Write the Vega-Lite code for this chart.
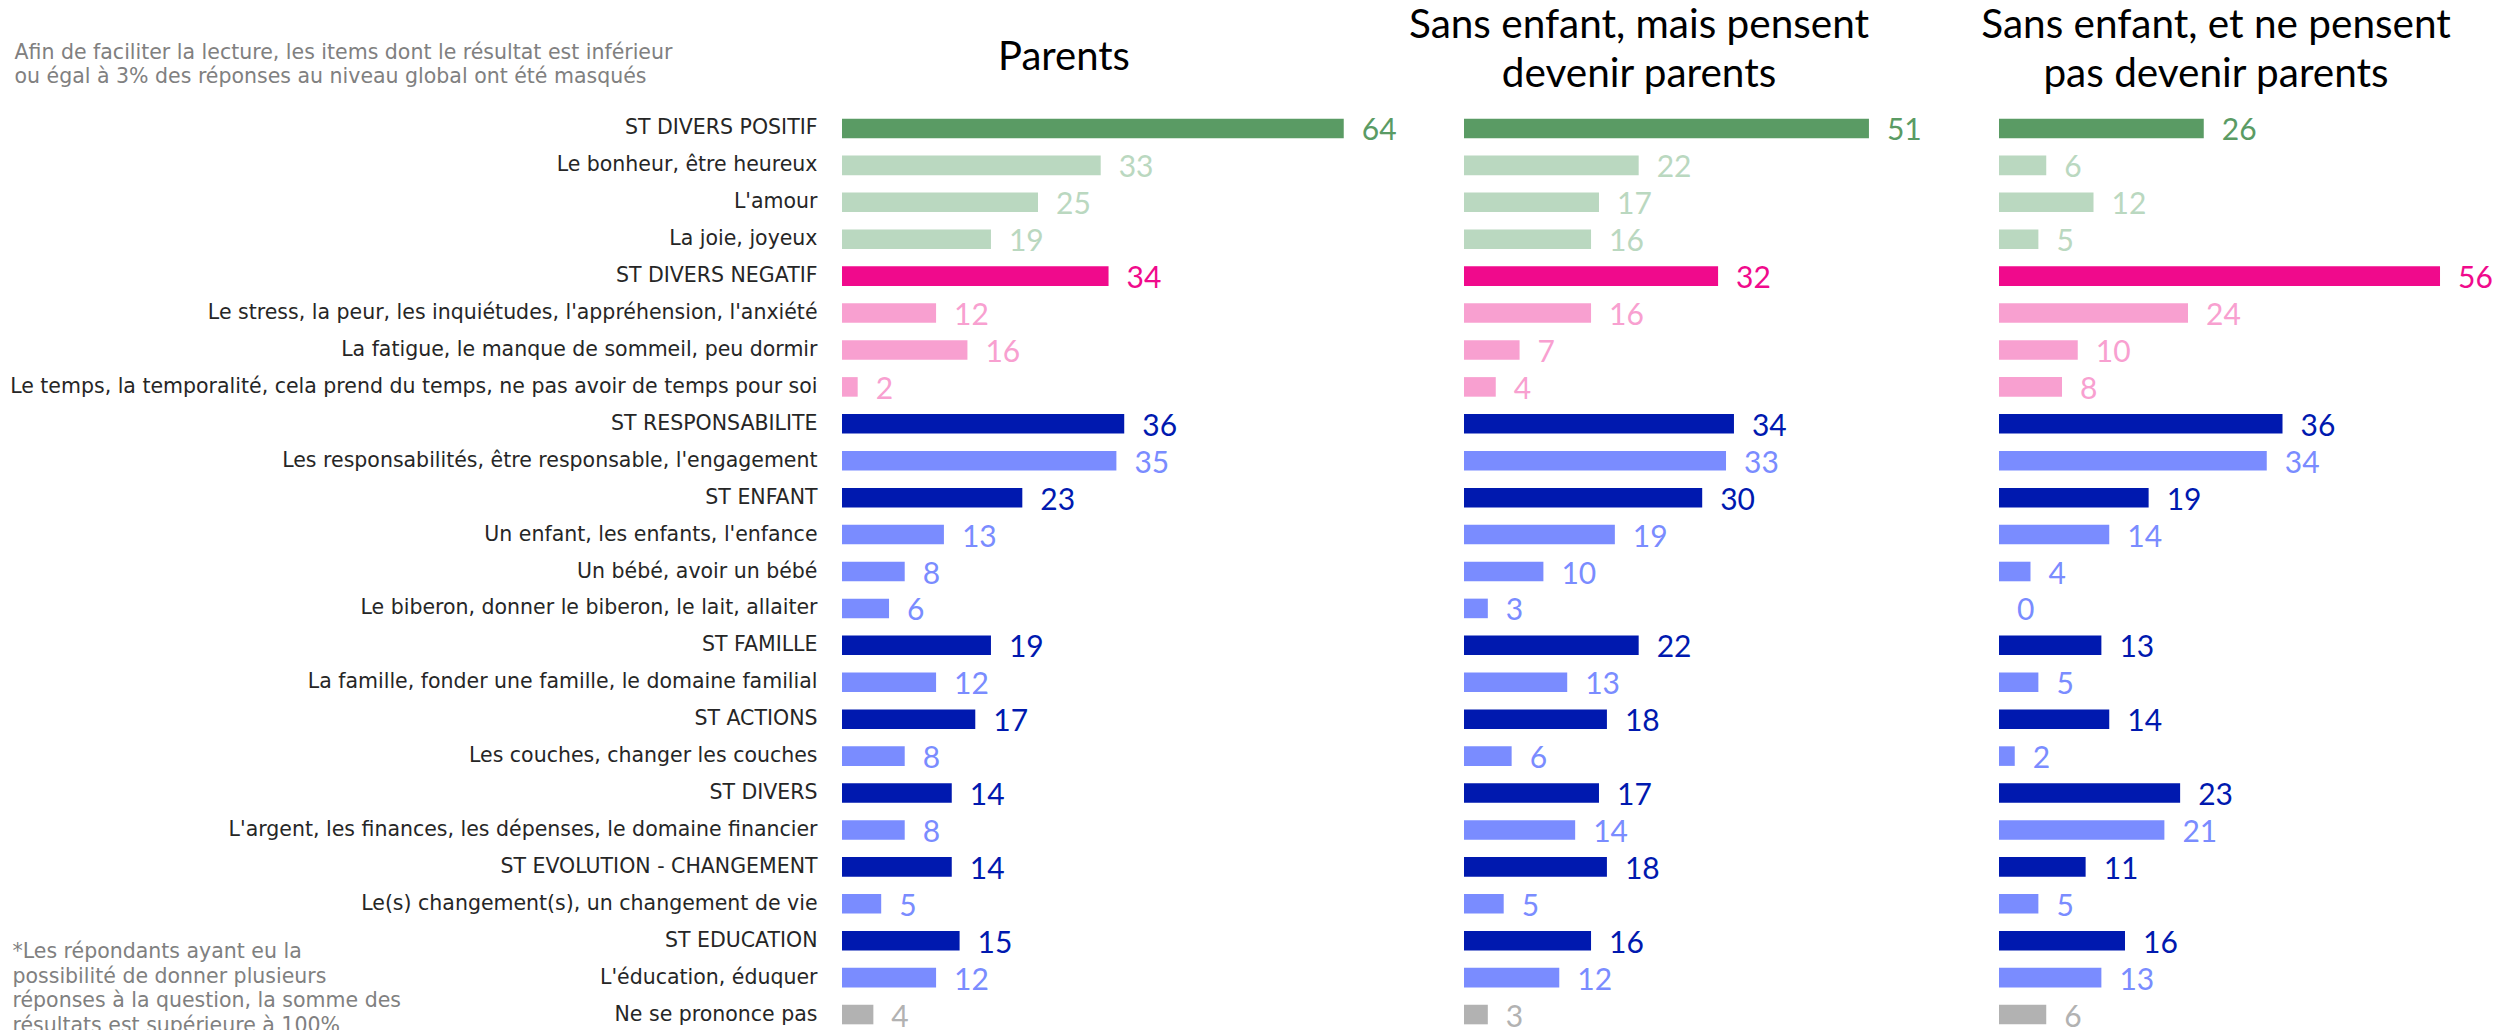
{
  "$schema": "https://vega.github.io/schema/vega-lite/v6.json",
  "padding": {"left": 9, "top": 5, "right": 0, "bottom": 0},
  "bounds": "flush",
  "spacing": 0,
  "config": {"view": {"stroke": null}, "font": "Lato"},
  "datasets": {
    "d": [
      {"g": "P", "item": "ST DIVERS POSITIF", "c": "posST", "v": 64},
      {"g": "P", "item": "Le bonheur, être heureux", "c": "pos", "v": 33},
      {"g": "P", "item": "L'amour", "c": "pos", "v": 25},
      {"g": "P", "item": "La joie, joyeux", "c": "pos", "v": 19},
      {"g": "P", "item": "ST DIVERS NEGATIF", "c": "negST", "v": 34},
      {"g": "P", "item": "Le stress, la peur, les inquiétudes, l'appréhension, l'anxiété", "c": "neg", "v": 12},
      {"g": "P", "item": "La fatigue, le manque de sommeil, peu dormir", "c": "neg", "v": 16},
      {"g": "P", "item": "Le temps, la temporalité, cela prend du temps, ne pas avoir de temps pour soi", "c": "neg", "v": 2},
      {"g": "P", "item": "ST RESPONSABILITE", "c": "bST", "v": 36},
      {"g": "P", "item": "Les responsabilités, être responsable, l'engagement", "c": "b", "v": 35},
      {"g": "P", "item": "ST ENFANT", "c": "bST", "v": 23},
      {"g": "P", "item": "Un enfant, les enfants, l'enfance", "c": "b", "v": 13},
      {"g": "P", "item": "Un bébé, avoir un bébé", "c": "b", "v": 8},
      {"g": "P", "item": "Le biberon, donner le biberon, le lait, allaiter", "c": "b", "v": 6},
      {"g": "P", "item": "ST FAMILLE", "c": "bST", "v": 19},
      {"g": "P", "item": "La famille, fonder une famille, le domaine familial", "c": "b", "v": 12},
      {"g": "P", "item": "ST ACTIONS", "c": "bST", "v": 17},
      {"g": "P", "item": "Les couches, changer les couches", "c": "b", "v": 8},
      {"g": "P", "item": "ST DIVERS", "c": "bST", "v": 14},
      {"g": "P", "item": "L'argent, les finances, les dépenses, le domaine financier", "c": "b", "v": 8},
      {"g": "P", "item": "ST EVOLUTION - CHANGEMENT", "c": "bST", "v": 14},
      {"g": "P", "item": "Le(s) changement(s), un changement de vie", "c": "b", "v": 5},
      {"g": "P", "item": "ST EDUCATION", "c": "bST", "v": 15},
      {"g": "P", "item": "L'éducation, éduquer", "c": "b", "v": 12},
      {"g": "P", "item": "Ne se prononce pas", "c": "nsp", "v": 4},

      {"g": "A", "item": "ST DIVERS POSITIF", "c": "posST", "v": 51},
      {"g": "A", "item": "Le bonheur, être heureux", "c": "pos", "v": 22},
      {"g": "A", "item": "L'amour", "c": "pos", "v": 17},
      {"g": "A", "item": "La joie, joyeux", "c": "pos", "v": 16},
      {"g": "A", "item": "ST DIVERS NEGATIF", "c": "negST", "v": 32},
      {"g": "A", "item": "Le stress, la peur, les inquiétudes, l'appréhension, l'anxiété", "c": "neg", "v": 16},
      {"g": "A", "item": "La fatigue, le manque de sommeil, peu dormir", "c": "neg", "v": 7},
      {"g": "A", "item": "Le temps, la temporalité, cela prend du temps, ne pas avoir de temps pour soi", "c": "neg", "v": 4},
      {"g": "A", "item": "ST RESPONSABILITE", "c": "bST", "v": 34},
      {"g": "A", "item": "Les responsabilités, être responsable, l'engagement", "c": "b", "v": 33},
      {"g": "A", "item": "ST ENFANT", "c": "bST", "v": 30},
      {"g": "A", "item": "Un enfant, les enfants, l'enfance", "c": "b", "v": 19},
      {"g": "A", "item": "Un bébé, avoir un bébé", "c": "b", "v": 10},
      {"g": "A", "item": "Le biberon, donner le biberon, le lait, allaiter", "c": "b", "v": 3},
      {"g": "A", "item": "ST FAMILLE", "c": "bST", "v": 22},
      {"g": "A", "item": "La famille, fonder une famille, le domaine familial", "c": "b", "v": 13},
      {"g": "A", "item": "ST ACTIONS", "c": "bST", "v": 18},
      {"g": "A", "item": "Les couches, changer les couches", "c": "b", "v": 6},
      {"g": "A", "item": "ST DIVERS", "c": "bST", "v": 17},
      {"g": "A", "item": "L'argent, les finances, les dépenses, le domaine financier", "c": "b", "v": 14},
      {"g": "A", "item": "ST EVOLUTION - CHANGEMENT", "c": "bST", "v": 18},
      {"g": "A", "item": "Le(s) changement(s), un changement de vie", "c": "b", "v": 5},
      {"g": "A", "item": "ST EDUCATION", "c": "bST", "v": 16},
      {"g": "A", "item": "L'éducation, éduquer", "c": "b", "v": 12},
      {"g": "A", "item": "Ne se prononce pas", "c": "nsp", "v": 3},

      {"g": "B", "item": "ST DIVERS POSITIF", "c": "posST", "v": 26},
      {"g": "B", "item": "Le bonheur, être heureux", "c": "pos", "v": 6},
      {"g": "B", "item": "L'amour", "c": "pos", "v": 12},
      {"g": "B", "item": "La joie, joyeux", "c": "pos", "v": 5},
      {"g": "B", "item": "ST DIVERS NEGATIF", "c": "negST", "v": 56},
      {"g": "B", "item": "Le stress, la peur, les inquiétudes, l'appréhension, l'anxiété", "c": "neg", "v": 24},
      {"g": "B", "item": "La fatigue, le manque de sommeil, peu dormir", "c": "neg", "v": 10},
      {"g": "B", "item": "Le temps, la temporalité, cela prend du temps, ne pas avoir de temps pour soi", "c": "neg", "v": 8},
      {"g": "B", "item": "ST RESPONSABILITE", "c": "bST", "v": 36},
      {"g": "B", "item": "Les responsabilités, être responsable, l'engagement", "c": "b", "v": 34},
      {"g": "B", "item": "ST ENFANT", "c": "bST", "v": 19},
      {"g": "B", "item": "Un enfant, les enfants, l'enfance", "c": "b", "v": 14},
      {"g": "B", "item": "Un bébé, avoir un bébé", "c": "b", "v": 4},
      {"g": "B", "item": "Le biberon, donner le biberon, le lait, allaiter", "c": "b", "v": 0},
      {"g": "B", "item": "ST FAMILLE", "c": "bST", "v": 13},
      {"g": "B", "item": "La famille, fonder une famille, le domaine familial", "c": "b", "v": 5},
      {"g": "B", "item": "ST ACTIONS", "c": "bST", "v": 14},
      {"g": "B", "item": "Les couches, changer les couches", "c": "b", "v": 2},
      {"g": "B", "item": "ST DIVERS", "c": "bST", "v": 23},
      {"g": "B", "item": "L'argent, les finances, les dépenses, le domaine financier", "c": "b", "v": 21},
      {"g": "B", "item": "ST EVOLUTION - CHANGEMENT", "c": "bST", "v": 11},
      {"g": "B", "item": "Le(s) changement(s), un changement de vie", "c": "b", "v": 5},
      {"g": "B", "item": "ST EDUCATION", "c": "bST", "v": 16},
      {"g": "B", "item": "L'éducation, éduquer", "c": "b", "v": 13},
      {"g": "B", "item": "Ne se prononce pas", "c": "nsp", "v": 6}
    ]
  },
  "hconcat": [
    {
      "width": 622, "height": 923,
      "data": {"name": "d"},
      "transform": [{"filter": "datum.g == 'P'"}],
      "title": {"text": "Parents", "anchor": "middle", "frame": "group", "dx": -89, "baseline": "bottom", "offset": -76, "font": "Lato", "fontSize": 40, "fontWeight": "normal", "color": "#000000"},
      "encoding": {
        "y": {"field": "item", "type": "nominal", "sort": null, "scale": {"paddingInner": 0.47, "paddingOuter": 0.235},
          "axis": {
            "title": ["*Les répondants ayant eu la", "possibilité de donner plusieurs", "réponses à la question, la somme des", "résultats est supérieure à 100%"],
            "titleAngle": 0, "titleAlign": "left", "titleBaseline": "top", "titleX": -830, "titleY": 831.5,
            "titleFont": "DejaVu Sans", "titleFontSize": 20.5, "titleFontWeight": "normal", "titleColor": "#808080", "titleLineHeight": 24.5,
            "labelFont": "DejaVu Sans", "labelFontSize": 20.5, "labelColor": "#262626", "labelPadding": 25, "labelLimit": 1000,
            "ticks": false, "domain": false, "grid": false, "minExtent": 831, "maxExtent": 831
          }},
        "x": {"field": "v", "type": "quantitative", "scale": {"domain": [0, 79.34], "nice": false, "zero": true},
          "axis": {
            "orient": "top", "labels": false, "ticks": false, "domain": false, "grid": false,
            "title": ["Afin de faciliter la lecture, les items dont le résultat est inférieur", "ou égal à 3% des réponses au niveau global ont été masqués"],
            "titleAngle": 0, "titleAlign": "left", "titleBaseline": "top", "titleX": -828, "titleY": -68,
            "titleFont": "DejaVu Sans", "titleFontSize": 20.5, "titleFontWeight": "normal", "titleColor": "#808080", "titleLineHeight": 24.5
          }},
        "color": {"field": "c", "type": "nominal", "legend": null,
          "scale": {"domain": ["posST", "pos", "negST", "neg", "bST", "b", "nsp"], "range": ["#5A9B64", "#BAD8C0", "#F00A8C", "#F8A0D0", "#0019AF", "#7A8CFF", "#B2B2B2"]}}
      },
      "layer": [
        {"mark": {"type": "bar"}},
        {"mark": {"type": "text", "align": "left", "baseline": "middle", "dx": 18, "dy": 3, "fontSize": 30, "font": "Lato"}, "encoding": {"text": {"field": "v", "type": "quantitative"}}}
      ]
    },
    {
      "width": 535, "height": 923,
      "data": {"name": "d"},
      "transform": [{"filter": "datum.g == 'A'"}],
      "title": {"text": ["Sans enfant, mais pensent", "devenir parents"], "anchor": "middle", "frame": "group", "dx": -92.5, "baseline": "bottom", "offset": -26.2, "lineHeight": 49, "font": "Lato", "fontSize": 40.5, "fontWeight": "normal", "color": "#000000"},
      "encoding": {
        "y": {"field": "item", "type": "nominal", "sort": null, "scale": {"paddingInner": 0.47, "paddingOuter": 0.235}, "axis": null},
        "x": {"field": "v", "type": "quantitative", "scale": {"domain": [0, 67.38], "nice": false, "zero": true}, "axis": null},
        "color": {"field": "c", "type": "nominal", "legend": null,
          "scale": {"domain": ["posST", "pos", "negST", "neg", "bST", "b", "nsp"], "range": ["#5A9B64", "#BAD8C0", "#F00A8C", "#F8A0D0", "#0019AF", "#7A8CFF", "#B2B2B2"]}}
      },
      "layer": [
        {"mark": {"type": "bar"}},
        {"mark": {"type": "text", "align": "left", "baseline": "middle", "dx": 18, "dy": 3, "fontSize": 30, "font": "Lato"}, "encoding": {"text": {"field": "v", "type": "quantitative"}}}
      ]
    },
    {
      "width": 490, "height": 923,
      "data": {"name": "d"},
      "transform": [{"filter": "datum.g == 'B'"}],
      "title": {"text": ["Sans enfant, et ne pensent", "pas devenir parents"], "anchor": "middle", "frame": "group", "dx": -28, "baseline": "bottom", "offset": -26.2, "lineHeight": 49, "font": "Lato", "fontSize": 40.5, "fontWeight": "normal", "color": "#000000"},
      "encoding": {
        "y": {"field": "item", "type": "nominal", "sort": null, "scale": {"paddingInner": 0.47, "paddingOuter": 0.235}, "axis": null},
        "x": {"field": "v", "type": "quantitative", "scale": {"domain": [0, 62.22], "nice": false, "zero": true}, "axis": null},
        "color": {"field": "c", "type": "nominal", "legend": null,
          "scale": {"domain": ["posST", "pos", "negST", "neg", "bST", "b", "nsp"], "range": ["#5A9B64", "#BAD8C0", "#F00A8C", "#F8A0D0", "#0019AF", "#7A8CFF", "#B2B2B2"]}}
      },
      "layer": [
        {"mark": {"type": "bar"}},
        {"mark": {"type": "text", "align": "left", "baseline": "middle", "dx": 18, "dy": 3, "fontSize": 30, "font": "Lato"}, "encoding": {"text": {"field": "v", "type": "quantitative"}}}
      ]
    }
  ]
}
